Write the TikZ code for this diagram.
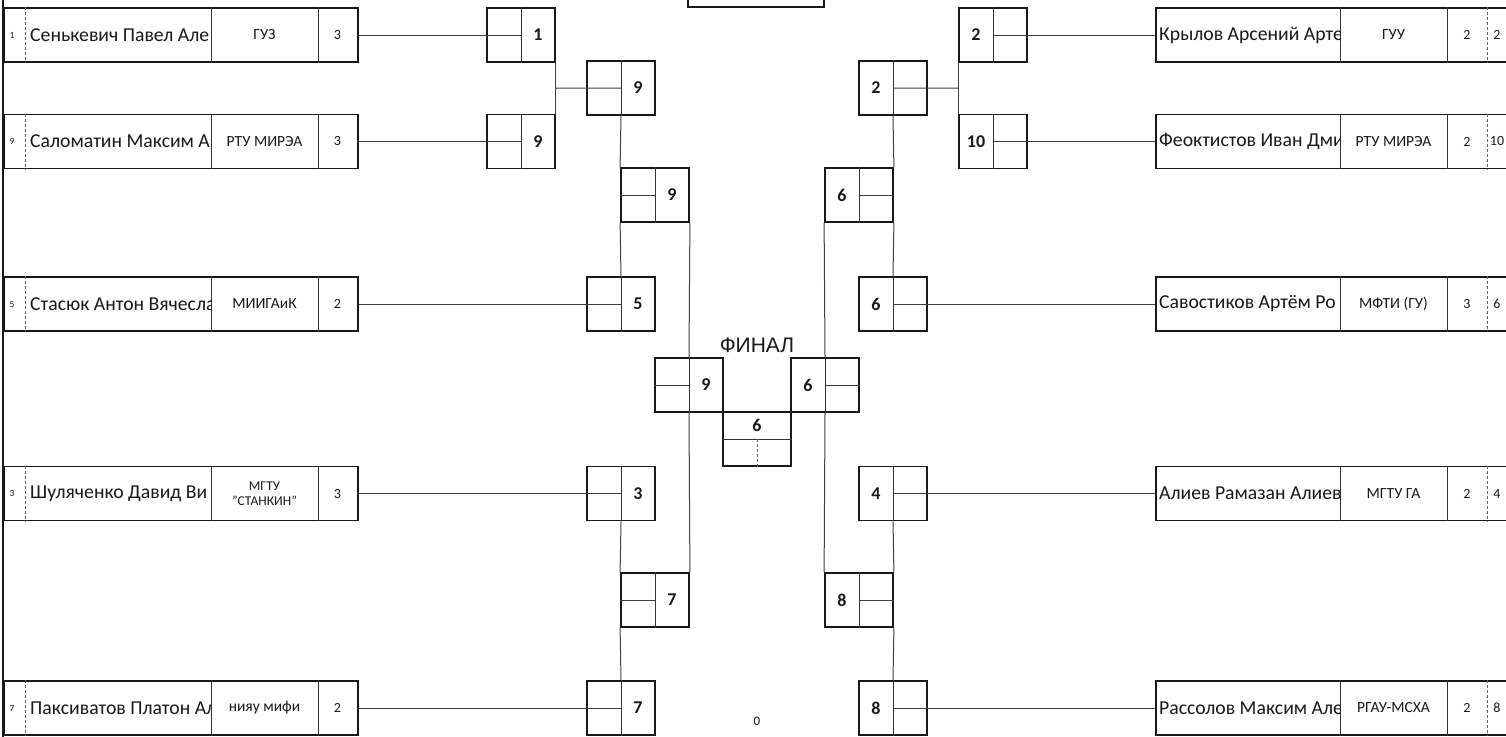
\documentclass[tikz,border=0pt]{standalone}
\usepackage{fontspec}
\setmainfont{Carlito}
\newfontfamily\arialf{Liberation Sans}
\usetikzlibrary{calc}
\tikzset{
 box/.style={draw=black!90, line width=1.8pt, minimum width=68pt, minimum height=54pt, inner sep=0pt},
 rowbox/.style={draw=black!90, line width=1.8pt, minimum height=54pt, inner sep=0pt, anchor=west},
 conn/.style={draw=black!75, line width=1pt},
 inner/.style={draw=black!80, line width=1pt},
 dashin/.style={draw=black!60, line width=0.8pt, dash pattern=on 3pt off 2pt},
 num/.style={font=\fontsize{18}{18}\selectfont\bfseries, inner sep=0pt, text=black!90},
 pname/.style={font=\fontsize{19.7}{19.7}\selectfont, anchor=west, inner sep=0pt, text=black!90},
 univ/.style={font=\fontsize{15.5}{15.5}\selectfont, inner sep=0pt, align=center, text=black!90},
 univs/.style={font=\fontsize{13.5}{15}\selectfont, inner sep=0pt, align=center, text=black!90},
 score/.style={font=\fontsize{14}{14}\selectfont, inner sep=0pt, text=black!90},
 seed/.style={font=\fontsize{9.5}{9.5}\selectfont, inner sep=0pt, text=black!90},
 rseed/.style={font=\fontsize{14}{14}\selectfont, inner sep=0pt, text=black!90},
}
\newcommand\leftrow[7]{% id, y, seed, name, univ, score, univ style
  \node[rowbox, minimum width=354pt] (#1) at (3,#2) {};
  \draw[dashin] ($(#1.north west)+(22,0)$) -- ($(#1.south west)+(22,0)$);
  \draw[inner] ($(#1.north west)+(208,0)$) -- ($(#1.south west)+(208,0)$);
  \draw[inner] ($(#1.north west)+(315,0)$) -- ($(#1.south west)+(315,0)$);
  \node[seed] (#1-seed) at ($(#1.west)+(9,0)$) {#3};
  \begin{scope}
   \clip ($(#1.north west)+(22,0)$) rectangle ($(#1.south west)+(208,0)$);
   \node[pname] (#1-name) at ($(#1.west)+(27,0)$) {#4};
  \end{scope}
  \node[#7] (#1-univ) at ($(#1.west)+(261.5,0)$) {#5};
  \node[score] (#1-score) at ($(#1.west)+(334.5,0)$) {#6};
}
\newcommand\rightrow[7]{% id, y, seed, name, univ, score, univ style
  \node[rowbox, minimum width=380pt] (#1) at (1155,#2) {};
  \draw[inner] ($(#1.north west)+(185,0)$) -- ($(#1.south west)+(185,0)$);
  \draw[inner] ($(#1.north west)+(292,0)$) -- ($(#1.south west)+(292,0)$);
  \draw[dashin] ($(#1.north west)+(332,0)$) -- ($(#1.south west)+(332,0)$);
  \begin{scope}
   \clip ($(#1.north west)+(0,0)$) rectangle ($(#1.south west)+(185,0)$);
   \node[pname] (#1-name) at ($(#1.west)+(4,0)$) {#4};
  \end{scope}
  \node[#7] (#1-univ) at ($(#1.west)+(238.5,0)$) {#5};
  \node[score] (#1-score) at ($(#1.west)+(312,0)$) {#6};
  \node[rseed] (#1-seed) at ($(#1.west)+(342,0)$) {#3};
}
\newcommand\lbox[4]{% id, x, y, number (number in right cell)
  \node[box] (#1) at (#2,#3) {};
  \draw[inner] (#1.north) -- (#1.south);
  \node[num] (#1-n) at ([xshift=17pt]#1.center) {#4};
}
\newcommand\rbox[4]{% id, x, y, number (number in left cell)
  \node[box] (#1) at (#2,#3) {};
  \draw[inner] (#1.north) -- (#1.south);
  \node[num] (#1-n) at ([xshift=-17pt]#1.center) {#4};
}
\begin{document}
\begin{tikzpicture}[x=1pt,y=-1pt]
\useasboundingbox (0,0) rectangle (1506,736);
\fill[white] (0,0) rectangle (1506,736);

% left edge line
\coordinate (eTop) at (3,-5);
\coordinate (eBot) at (3,741);
\draw[line width=1.8pt, draw=black!90] (eTop) -- (eBot);

% top partial box
\node[draw=black!90, line width=1.8pt, minimum width=136pt, minimum height=60pt, inner sep=0pt, anchor=south] (topbox) at (756,8) {};

% left players
\leftrow{p1}{35}{1}{Сенькевич Павел Але}{ГУЗ}{3}{univ}
\leftrow{p2}{141.5}{9}{Саломатин Максим А}{РТУ МИРЭА}{3}{univ}
\leftrow{p3}{304}{5}{Стасюк Антон Вячесла}{МИИГАиК}{2}{univ}
\leftrow{p4}{493.5}{3}{Шуляченко Давид Ви}{МГТУ\\"СТАНКИН"}{3}{univs}
\leftrow{p5}{708}{7}{Паксиватов Платон Ал}{нияу мифи}{2}{univ}

% right players
\rightrow{q1}{35}{2}{Крылов Арсений Арте}{ГУУ}{2}{univ}
\rightrow{q2}{141.5}{10}{Феоктистов Иван Дми}{РТУ МИРЭА}{2}{univ}
\rightrow{q3}{304}{6}{Савостиков Артём Ро}{МФТИ (ГУ)}{3}{univ}
\rightrow{q4}{493.5}{4}{Алиев Рамазан Алиев}{МГТУ ГА}{2}{univ}
\rightrow{q5}{708}{8}{Рассолов Максим Але}{РГАУ-МСХА}{2}{univ}

% left bracket boxes
\lbox{L1}{521}{35}{1}
\lbox{L2}{521}{141.5}{9}
\lbox{QL}{621}{88}{9}
\lbox{SL}{655}{195}{9}
\lbox{L5}{621}{304}{5}
\lbox{FL}{689}{385}{9}
\lbox{L3}{621}{493.5}{3}
\lbox{SL2}{655}{600}{7}
\lbox{L7}{621}{708}{7}

% right bracket boxes
\rbox{R2}{993}{35}{2}
\rbox{R10}{993}{141.5}{10}
\rbox{QR}{893}{88}{2}
\rbox{SR}{859}{195}{6}
\rbox{R6}{893}{304}{6}
\rbox{FR}{825}{385}{6}
\rbox{R4}{893}{493.5}{4}
\rbox{SR2}{859}{600}{8}
\rbox{R8}{893}{708}{8}

% final center box
\node[box] (FC) at (757,439) {};
\draw[inner] (FC.west) -- (FC.east);
\draw[dashin] (FC.center) -- (FC.south);
\node[num] (FC-n) at ([yshift=14pt]FC.center) {6};

\node[font=\arialf\fontsize{21}{21}\selectfont, inner sep=0pt, text=black!90] (final) at (757,345) {ФИНАЛ};
\node[font=\fontsize{13}{13}\selectfont, inner sep=0pt, text=black!90] (zero) at (757,721) {0};

% left connectors
\draw[conn] (p1.east) -- (L1.center);
\draw[conn] (p2.east) -- (L2.center);
\draw[conn] (L1.south east) -- (L2.north east);
\draw[conn] ($(L1.south east)!0.5!(L2.north east)$) -- (QL.center);
\draw[conn] (QL.south) -- (SL.north west);
\draw[conn] (SL.west) -- (SL.center);
\draw[conn] (SL.south west) -- (L5.north);
\draw[conn] (p3.east) -- (L5.center);
\draw[conn] (SL.south east) -- (FL.north);
\draw[conn] (FL.west) -- (FL.center);
\draw[conn] (FL.south) -- (SL2.north east);
\draw[conn] (p4.east) -- (L3.center);
\draw[conn] (L3.south) -- (SL2.north west);
\draw[conn] (SL2.west) -- (SL2.center);
\draw[conn] (SL2.south west) -- (L7.north);
\draw[conn] (p5.east) -- (L7.center);

% right connectors
\draw[conn] (R2.center) -- (q1.west);
\draw[conn] (R10.center) -- (q2.west);
\draw[conn] (R2.south west) -- (R10.north west);
\draw[conn] (QR.center) -- ($(R2.south west)!0.5!(R10.north west)$);
\draw[conn] (QR.south) -- (SR.north east);
\draw[conn] (SR.center) -- (SR.east);
\draw[conn] (SR.south east) -- (R6.north);
\draw[conn] (R6.center) -- (q3.west);
\draw[conn] (SR.south west) -- (FR.north);
\draw[conn] (FR.center) -- (FR.east);
\draw[conn] (FR.south) -- (SR2.north west);
\draw[conn] (R4.center) -- (q4.west);
\draw[conn] (R4.south) -- (SR2.north east);
\draw[conn] (SR2.center) -- (SR2.east);
\draw[conn] (SR2.south east) -- (R8.north);
\draw[conn] (R8.center) -- (q5.west);
\end{tikzpicture}
\end{document}
